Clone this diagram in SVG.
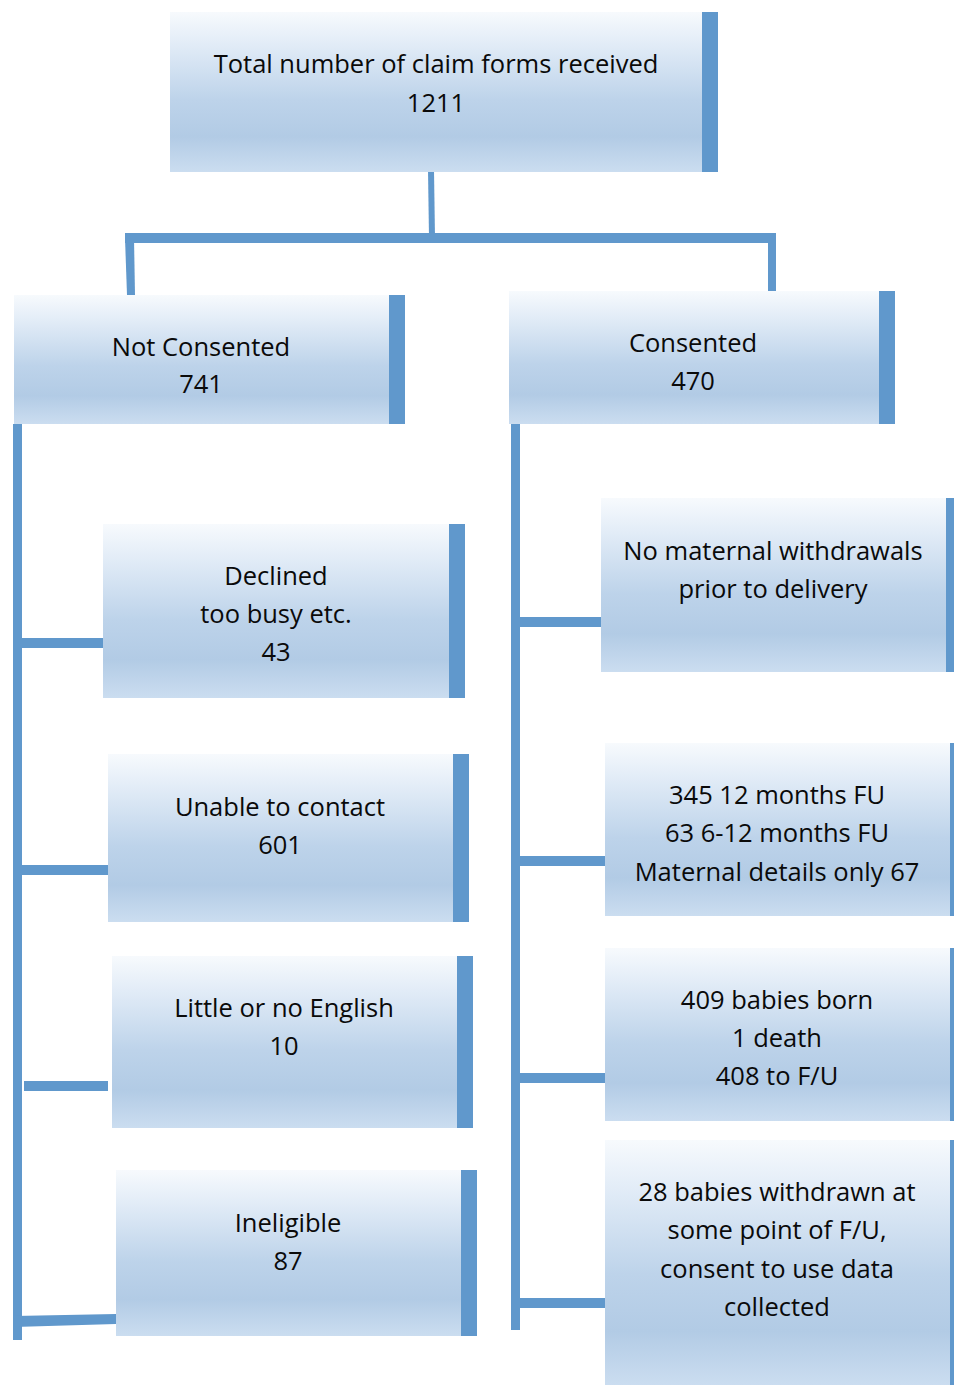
<svg xmlns="http://www.w3.org/2000/svg" width="954" height="1385" viewBox="0 0 954 1385">
<defs>
<linearGradient id="g" x1="0" y1="0" x2="0" y2="1">
<stop offset="0" stop-color="#f7fafd"/>
<stop offset="0.2" stop-color="#e2ecf7"/>
<stop offset="0.55" stop-color="#bdd3ea"/>
<stop offset="0.78" stop-color="#b2cbe5"/>
<stop offset="1" stop-color="#cbddf0"/>
</linearGradient>
<style>
.box{fill:url(#g)}
.bar{fill:#6098cc}
.t{font-family:"Open Sans","Noto Sans",sans-serif;font-size:25.5px;fill:#0a0a0a;text-anchor:middle}
.c{fill:#6098cc}
</style>
</defs>
<rect width="954" height="1385" fill="#ffffff"/>
<g id="connectors">
<polygon class="c" points="428,170 434,170 435,238 429,238"/>
<rect class="c" x="125" y="233" width="651" height="10"/>
<polygon class="c" points="125,238 134,238 135,295 127,295"/>
<rect class="c" x="768" y="238" width="8" height="55"/>
<rect class="c" x="13" y="424" width="9" height="916"/>
<rect class="c" x="22" y="638" width="81" height="10"/>
<rect class="c" x="22" y="865" width="86" height="10"/>
<rect class="c" x="24" y="1081" width="84" height="10"/>
<polygon class="c" points="14,1316 116,1314 116,1324 14,1327"/>
<rect class="c" x="511" y="424" width="9" height="906"/>
<rect class="c" x="520" y="617" width="81" height="10"/>
<rect class="c" x="520" y="856" width="85" height="10"/>
<rect class="c" x="520" y="1073" width="85" height="10"/>
<rect class="c" x="520" y="1298" width="85" height="10"/>
</g>
<g id="n-total">
<rect class="box" x="170" y="12" width="532" height="160"/>
<rect class="bar" x="702" y="12" width="16" height="160"/>
<text class="t" x="436" y="73">Total number of claim forms received</text>
<text class="t" x="436" y="112">1211</text>
</g>
<g id="n-notconsented">
<rect class="box" x="14" y="295" width="375" height="129"/>
<rect class="bar" x="389" y="295" width="16" height="129"/>
<text class="t" x="201" y="356">Not Consented</text>
<text class="t" x="201" y="393">741</text>
</g>
<g id="n-consented">
<rect class="box" x="509" y="291" width="370" height="133"/>
<rect class="bar" x="879" y="291" width="16" height="133"/>
<text class="t" x="693" y="352">Consented</text>
<text class="t" x="693" y="390">470</text>
</g>
<g id="n-declined">
<rect class="box" x="103" y="524" width="346" height="174"/>
<rect class="bar" x="449" y="524" width="16" height="174"/>
<text class="t" x="276" y="585">Declined</text>
<text class="t" x="276" y="623">too busy etc.</text>
<text class="t" x="276" y="661">43</text>
</g>
<g id="n-unable">
<rect class="box" x="108" y="754" width="345" height="168"/>
<rect class="bar" x="453" y="754" width="16" height="168"/>
<text class="t" x="280" y="816">Unable to contact</text>
<text class="t" x="280" y="854">601</text>
</g>
<g id="n-english">
<rect class="box" x="112" y="956" width="345" height="172"/>
<rect class="bar" x="457" y="956" width="16" height="172"/>
<text class="t" x="284" y="1017">Little or no English</text>
<text class="t" x="284" y="1055">10</text>
</g>
<g id="n-ineligible">
<rect class="box" x="116" y="1170" width="345" height="166"/>
<rect class="bar" x="461" y="1170" width="16" height="166"/>
<text class="t" x="288" y="1232">Ineligible</text>
<text class="t" x="288" y="1270">87</text>
</g>
<g id="n-nowithdrawals">
<rect class="box" x="601" y="498" width="345" height="174"/>
<rect class="bar" x="946" y="498" width="8" height="174"/>
<text class="t" x="773" y="560">No maternal withdrawals</text>
<text class="t" x="773" y="598">prior to delivery</text>
</g>
<g id="n-followup">
<rect class="box" x="605" y="743" width="345" height="173"/>
<rect class="bar" x="950" y="743" width="4" height="173"/>
<text class="t" x="777" y="804">345 12 months FU</text>
<text class="t" x="777" y="842">63 6-12 months FU</text>
<text class="t" x="777" y="881">Maternal details only 67</text>
</g>
<g id="n-babies">
<rect class="box" x="605" y="948" width="345" height="173"/>
<rect class="bar" x="950" y="948" width="4" height="173"/>
<text class="t" x="777" y="1009">409 babies born</text>
<text class="t" x="777" y="1047">1 death</text>
<text class="t" x="777" y="1085">408 to F/U</text>
</g>
<g id="n-withdrawn">
<rect class="box" x="605" y="1140" width="345" height="245"/>
<rect class="bar" x="950" y="1140" width="4" height="245"/>
<text class="t" x="777" y="1201">28 babies withdrawn at</text>
<text class="t" x="777" y="1239">some point of F/U,</text>
<text class="t" x="777" y="1278">consent to use data</text>
<text class="t" x="777" y="1316">collected</text>
</g>
</svg>
